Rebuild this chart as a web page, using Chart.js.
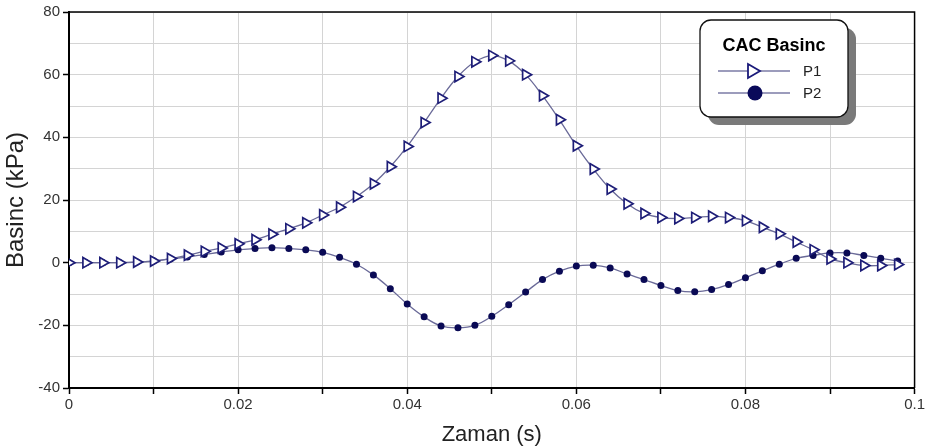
<!DOCTYPE html>
<html>
<head>
<meta charset="utf-8">
<script src="https://cdn.jsdelivr.net/npm/chart.js@4.4.1/dist/chart.umd.min.js"></script>
<style>
html,body{margin:0;padding:0;background:#fff;}
#wrap{width:927px;height:448px;position:relative;}
</style>
</head>
<body>
<div id="wrap"><canvas id="c" width="927" height="448"></canvas></div>
<script>
const times = [0,0.002,0.004,0.006,0.008,0.010,0.012,0.014,0.016,0.018,0.020,0.022,0.024,0.026,0.028,0.030,0.032,0.034,0.036,0.038,0.040,0.042,0.044,0.046,0.048,0.050,0.052,0.054,0.056,0.058,0.060,0.062,0.064,0.066,0.068,0.070,0.072,0.074,0.076,0.078,0.080,0.082,0.084,0.086,0.088,0.090,0.092,0.094,0.096,0.098];
const p1 = [0,0,0,0,0.2,0.5,1.3,2.4,3.6,4.7,6.0,7.3,9.1,10.8,12.7,15.2,17.7,21.1,25.2,30.6,37.1,44.7,52.5,59.4,64.1,66.1,64.4,60.0,53.3,45.6,37.3,29.9,23.5,18.8,15.7,14.4,14.1,14.4,14.8,14.4,13.4,11.3,9.2,6.6,4.1,1.2,0,-0.9,-0.9,-0.6];
const p2 = [0,0,0,0,0.2,0.6,1.2,1.8,2.6,3.4,4.1,4.5,4.8,4.5,4.1,3.3,1.7,-0.5,-3.9,-8.3,-13.2,-17.3,-20.2,-20.8,-20.0,-17.1,-13.4,-9.4,-5.4,-2.7,-1.1,-0.8,-1.7,-3.6,-5.4,-7.3,-8.9,-9.3,-8.6,-7.0,-4.8,-2.6,-0.5,1.4,2.3,3.1,3.1,2.3,1.4,0.5];
const seriesNames = ['P1','P2'];
const legendTitle = 'CAC Basinc';
const xTitle = 'Zaman (s)';
const yTitle = 'Basinc (kPa)';

const pts = arr => times.map((t,i)=>({x:t,y:arr[i]}));

const frame = {
  id:'frame',
  afterDatasetsDraw(chart){
    const {ctx, chartArea:a} = chart;
    ctx.save();
    ctx.strokeStyle='#000';
    ctx.lineWidth=1.5;
    ctx.beginPath();
    ctx.moveTo(a.left,a.top);ctx.lineTo(a.right,a.top);ctx.lineTo(a.right,a.bottom);
    ctx.stroke();
    ctx.restore();
  },
  afterDraw(chart){
    const ctx = chart.ctx;
    const x=700,y=20,w=148,h=97,r=11;
    const rr=(px,py)=>{ctx.beginPath();ctx.roundRect(px,py,w,h,r);};
    ctx.save();
    ctx.fillStyle='#7a7a7a';
    rr(x+8,y+8);ctx.fill();
    ctx.fillStyle='#fff';
    rr(x,y);ctx.fill();
    ctx.strokeStyle='#111';ctx.lineWidth=1.3;ctx.stroke();
    ctx.fillStyle='#000';
    ctx.font='bold 18px "Liberation Sans", Arial, sans-serif';
    ctx.textAlign='center';ctx.textBaseline='middle';
    ctx.fillText(legendTitle, x+w/2, y+26);
    const ds = chart.data.datasets;
    ctx.font='15px "Liberation Sans", Arial, sans-serif';
    ctx.textAlign='left';
    [71,93].forEach((yy,i)=>{
      ctx.strokeStyle='#3a3a7a';ctx.lineWidth=1.2;
      ctx.beginPath();ctx.moveTo(718,yy);ctx.lineTo(790,yy);ctx.stroke();
      if(i===0){
        ctx.fillStyle='#fff';ctx.strokeStyle='#1a1a7a';ctx.lineWidth=1.8;
        ctx.beginPath();ctx.moveTo(748,yy-7);ctx.lineTo(760,yy);ctx.lineTo(748,yy+7);ctx.closePath();
        ctx.fill();ctx.stroke();
      } else {
        ctx.fillStyle='#0a0a5a';
        ctx.beginPath();ctx.arc(755,yy,7.5,0,Math.PI*2);ctx.fill();
      }
      ctx.fillStyle='#222';
      ctx.fillText(ds[i].label, 803, yy+1);
    });
    ctx.restore();
  }
};

new Chart(document.getElementById('c'),{
  type:'line',
  data:{datasets:[
    {label:seriesNames[0],data:pts(p1),borderColor:'#6a6a98',borderWidth:1.3,tension:0.4,
     pointStyle:'triangle',rotation:90,pointRadius:6,pointBackgroundColor:'#fff',pointBorderColor:'#1e1e78',pointBorderWidth:1.7},
    {label:seriesNames[1],data:pts(p2),borderColor:'#6a6a98',borderWidth:1.3,tension:0.4,
     pointStyle:'circle',pointRadius:3.5,pointBackgroundColor:'#0a0a55',pointBorderColor:'#0a0a55',pointBorderWidth:0}
  ]},
  options:{
    responsive:false,animation:false,
    layout:{padding:{top:12,right:10,left:0,bottom:0}},
    plugins:{legend:{display:false},tooltip:{enabled:false}},
    scales:{
      x:{type:'linear',min:0,max:0.1,
        afterFit(s){s.height=60;},
        ticks:{stepSize:0.01,autoSkip:false,maxRotation:0,color:'#333',padding:2,
          font:{family:'"Liberation Sans", Arial',size:15},
          callback(v){const m=Math.round(v*1000);return m%20===0?String(m/1000):'';}},
        grid:{color:'#d4d4d4',lineWidth:1,tickColor:'#000',tickLength:6,tickWidth:1.5},
        border:{color:'#000',width:2},
        title:{display:true,text:xTitle,color:'#222',padding:{top:0,bottom:0},
          font:{family:'"Liberation Sans", Arial',size:22}}
      },
      y:{min:-40,max:80,
        afterFit(s){s.width=69;},
        ticks:{stepSize:10,color:'#333',padding:3,font:{family:'"Liberation Sans", Arial',size:15},
          callback(v){return v%20===0?String(v):'';}},
        grid:{color:'#d4d4d4',lineWidth:1,tickLength:6,tickWidth:1.5,
          tickColor(c){return (c.tick && c.tick.value%20===0)?'#000':'rgba(0,0,0,0)';}},
        border:{color:'#000',width:2},
        title:{display:true,text:yTitle,color:'#222',padding:{top:2,bottom:2},
          font:{family:'"Liberation Sans", Arial',size:24}}
      }
    }
  },
  plugins:[frame]
});
</script>
</body>
</html>
